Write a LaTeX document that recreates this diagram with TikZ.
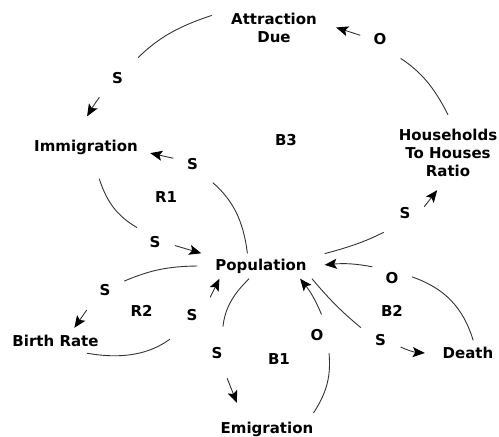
\documentclass[tikz,border=0pt]{standalone}
\usepackage{fontspec}
\setmainfont{DejaVu Sans}
\usetikzlibrary{arrows.meta}
\begin{document}
\begin{tikzpicture}[x=1pt,y=1pt,
  every node/.style={font=\fontsize{15}{18}\selectfont\bfseries, text=black, inner sep=0pt},
  var/.style={rectangle, align=center},
  pol/.style={circle, minimum size=40pt},
  link/.style={draw=black!80, line width=0.9pt},
  arr/.style={link, -{Stealth[length=12pt,width=10pt,inset=2.5pt,color=black]}}]
\useasboundingbox (0,0) rectangle (499,-437);

% variables
\node[var, minimum width=124pt, minimum height=44pt] (att)   at (274,-27.5)  {Attraction\\Due};
\node[var, minimum width=128pt, minimum height=62pt] (imm)   at (86,-147.5)  {Immigration};
\node[var, minimum width=104pt, minimum height=75pt] (hh)    at (448,-152.5) {Households\\To Houses\\Ratio};
\node[var, minimum width=127pt, minimum height=25pt] (pop)   at (261,-266)   {Population};
\node[var, minimum width=100pt, minimum height=25pt] (br)    at (55.5,-340.5){Birth Rate};
\node[var, minimum width=86pt,  minimum height=25pt] (death) at (468,-353)   {Death};
\node[var, minimum width=92pt,  minimum height=52pt] (em)    at (267,-429)   {Emigration};

% loop identifiers
\node (b3) at (286,-140.5) {B3};
\node (r1) at (166,-197.5) {R1};
\node (r2) at (141.5,-311) {R2};
\node (b2) at (392,-311)   {B2};
\node (b1) at (279,-359)   {B1};

% link polarities
\node[pol] (l1)  at (117.5,-78.5) {S};
\node[pol] (l2)  at (380,-39.5)   {O};
\node[pol] (l3)  at (192.5,-164.5){S};
\node[pol] (l4)  at (155,-242)    {S};
\node[pol] (l5)  at (405,-213)    {S};
\node[pol] (l6)  at (105,-290)    {S};
\node[pol] (l7)  at (192,-315)    {S};
\node[pol] (l8)  at (217,-353)    {S};
\node[pol] (l9)  at (317,-335)    {O};
\node[pol] (l10) at (380.5,-340)  {S};
\node[pol] (l11) at (392,-278)    {O};

% Attraction Due -> Immigration
\draw[link, shorten >=9pt] (att.169) to[bend right=13] (l1.46);
\draw[arr, shorten <=6pt] (l1.224) to[bend right=3] (imm.88);
% Households To Houses Ratio -> Attraction Due
\draw[link, shorten >=8pt] (hh.90) to[bend right=15] (l2.-46);
\draw[arr] (l2.168) to (att.0);
% Population -> Immigration
\draw[link, shorten >=7pt] (pop.137) to[bend right=21] (l3.-42);
\draw[arr] (l3.162) to (imm.-5);
% Immigration -> Population
\draw[link, shorten >=3pt] (imm.-67) to[bend right=21] (l4.140);
\draw[arr] (l4.-10) to (pop.168);
% Population -> Households To Houses Ratio
\draw[link, shorten >=9pt] (pop.11) to[bend right=6] (l5.229);
\draw[arr] (l5.18) to (hh.254);
% Population -> Birth Rate
\draw[link, shorten >=1pt] (pop.180) to[bend right=11] (l6.25);
\draw[arr, shorten <=7pt] (l6.225) to (br.34);
% Birth Rate -> Population
\draw[link, shorten >=13pt] (br.-22) to[bend right=23] (l7.235);
\draw[arr, shorten <=5.5pt] (l7.39) to (pop.197);
% Population -> Emigration
\draw[link, shorten >=7pt] (pop.227) to[bend right=20] (l8.75);
\draw[arr, shorten <=7pt] (l8.-68) to (em.139);
% Emigration -> Population
\draw[link, shorten >=2pt] (em.19) to[bend right=19] (l9.-54);
\draw[arr, shorten <=1pt] (l9.76) to[bend right=8] (pop.342);
% Population -> Death
\draw[link, shorten >=3pt] (pop.346) to[bend right=5] (l10.149);
\draw[arr, shorten <=1pt] (l10.-19) to[bend right=10] (death.180);
% Death -> Population
\draw[link] (death.68) to[bend right=27] (l11.3);
\draw[arr, shorten <=2.5pt] (l11.148) to[bend right=8] (pop.1);
\end{tikzpicture}
\end{document}
